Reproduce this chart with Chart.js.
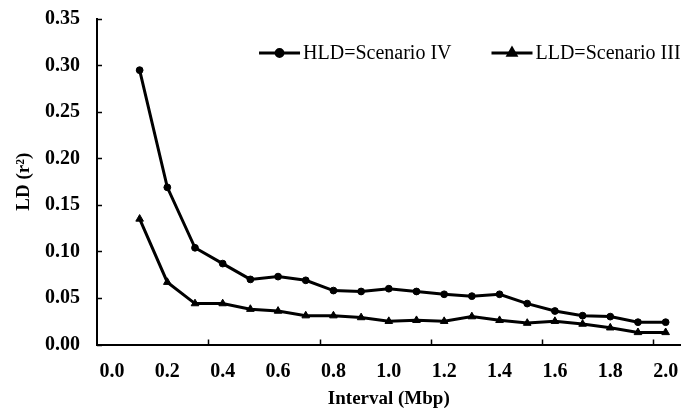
<!DOCTYPE html>
<html>
<head>
<meta charset="utf-8">
<script src="https://cdn.jsdelivr.net/npm/chart.js@4/dist/chart.umd.min.js"></script>
<style>
  html, body { margin: 0; padding: 0; background: #ffffff; }
  #wrap { position: relative; width: 686px; height: 409px; }
</style>
</head>
<body>
<div id="wrap"><canvas id="c"></canvas></div>
<script>
// ---- data ----
const intervals = [0.1, 0.2, 0.3, 0.4, 0.5, 0.6, 0.7, 0.8, 0.9, 1.0,
                   1.1, 1.2, 1.3, 1.4, 1.5, 1.6, 1.7, 1.8, 1.9, 2.0];
const hldValues = [0.295, 0.169, 0.104, 0.087, 0.070, 0.073, 0.069, 0.058, 0.057, 0.060,
                   0.057, 0.054, 0.052, 0.054, 0.044, 0.036, 0.031, 0.030, 0.024, 0.024];
const lldValues = [0.135, 0.067, 0.044, 0.044, 0.038, 0.036, 0.031, 0.031, 0.029, 0.025,
                   0.026, 0.025, 0.030, 0.026, 0.023, 0.025, 0.022, 0.018, 0.013, 0.013];
const seriesLabels = ['HLD=Scenario IV', 'LLD=Scenario III'];
const xTickLabels = [0.0, 0.2, 0.4, 0.6, 0.8, 1.0, 1.2, 1.4, 1.6, 1.8, 2.0];
const yTickLabels = [0.00, 0.05, 0.10, 0.15, 0.20, 0.25, 0.30, 0.35];
const xTickMarks = [0.348, 0.750, 1.152, 1.552, 1.955];
const xAxisTitle = 'Interval (Mbp)';
const yAxisTitle = 'LD (r\u00B2)';

const SERIF = "'Liberation Serif', 'Times New Roman', serif";

function toPoints(xs, ys) { return xs.map((x, i) => ({ x: x, y: ys[i] })); }

// inward tick marks, placed through the scales
const innerTicks = {
  id: 'innerTicks',
  beforeDatasetsDraw(chart) {
    const { ctx, chartArea, scales } = chart;
    ctx.save();
    ctx.strokeStyle = '#000';
    ctx.lineWidth = 1.5;
    ctx.beginPath();
    yTickLabels.forEach(v => {
      const py = Math.round(scales.y.getPixelForValue(v)) + 0.5;
      ctx.moveTo(chartArea.left, py);
      ctx.lineTo(chartArea.left + 5, py);
    });
    xTickMarks.forEach(v => {
      const px = Math.round(scales.x.getPixelForValue(v)) + 0.5;
      ctx.moveTo(px, chartArea.bottom);
      ctx.lineTo(px, chartArea.bottom - 5);
    });
    ctx.stroke();
    ctx.restore();
  }
};

// legend drawn inside the plot area: line + marker + text
const lineLegend = {
  id: 'lineLegend',
  afterDatasetsDraw(chart, args, opts) {
    const { ctx, chartArea } = chart;
    const font = opts.fontSize + 'px ' + SERIF;
    ctx.save();
    ctx.font = font;
    const items = chart.data.datasets.map(ds => ({
      ds: ds,
      w: opts.lineLength + opts.textGap + ctx.measureText(ds.label).width
    }));
    const total = items.reduce((s, it) => s + it.w, 0) + opts.itemGap * (items.length - 1);
    let x = chartArea.right - total;
    const y = chartArea.top + opts.topOffset;
    items.forEach(it => {
      const ds = it.ds;
      ctx.strokeStyle = ds.borderColor;
      ctx.fillStyle = ds.pointBackgroundColor;
      ctx.lineWidth = ds.borderWidth;
      ctx.beginPath();
      ctx.moveTo(x, y);
      ctx.lineTo(x + opts.lineLength, y);
      ctx.stroke();
      Chart.helpers.drawPoint(ctx, {
        pointStyle: ds.pointStyle, radius: ds.pointRadius, rotation: 0, borderWidth: 1
      }, x + opts.lineLength / 2, y);
      ctx.fillStyle = '#000';
      ctx.textBaseline = 'middle';
      ctx.textAlign = 'left';
      ctx.fillText(ds.label, x + opts.lineLength + opts.textGap, y + 1);
      x += it.w + opts.itemGap;
    });
    ctx.restore();
  }
};

new Chart(document.getElementById('c'), {
  type: 'line',
  data: {
    datasets: [
      {
        label: seriesLabels[0],
        data: toPoints(intervals, hldValues),
        borderColor: '#000', backgroundColor: '#000',
        pointBackgroundColor: '#000', pointBorderColor: '#000',
        borderWidth: 3, pointStyle: 'circle', pointRadius: 3.4, pointBorderWidth: 1,
        tension: 0, fill: false
      },
      {
        label: seriesLabels[1],
        data: toPoints(intervals, lldValues),
        borderColor: '#000', backgroundColor: '#000',
        pointBackgroundColor: '#000', pointBorderColor: '#000',
        borderWidth: 3, pointStyle: 'triangle', pointRadius: 4.4, pointBorderWidth: 1,
        tension: 0, fill: false
      }
    ]
  },
  options: {
    responsive: true,
    maintainAspectRatio: false,
    devicePixelRatio: 1,
    animation: false,
    layout: { padding: { left: 0, top: 19, right: 3, bottom: 0 } },
    plugins: {
      legend: { display: false },
      tooltip: { enabled: false },
      lineLegend: { fontSize: 20, lineLength: 41, textGap: 3, itemGap: 40, topOffset: 34 }
    },
    scales: {
      x: {
        type: 'linear',
        min: -0.054, max: 2.054,
        afterBuildTicks: (scale) => { scale.ticks = xTickLabels.map(v => ({ value: v })); },
        afterFit: (scale) => { scale.height = 64.5; scale.paddingLeft = 0; scale.paddingRight = 0; },
        grid: { display: false, drawTicks: false },
        border: { display: true, color: '#000', width: 2 },
        ticks: {
          padding: 15,
          color: '#000',
          font: { family: SERIF, size: 20, weight: 'bold' },
          callback: (v) => Number(v).toFixed(1)
        },
        title: {
          display: true, text: xAxisTitle, color: '#000',
          font: { family: SERIF, size: 19, weight: 'bold', lineHeight: 1 },
          padding: { top: 0, bottom: 0 }
        }
      },
      y: {
        min: 0, max: 0.35,
        afterBuildTicks: (scale) => { scale.ticks = yTickLabels.map(v => ({ value: v })); },
        afterFit: (scale) => { scale.width = 97; scale.paddingTop = 0; scale.paddingBottom = 0; },
        grid: { display: false, drawTicks: false },
        border: { display: true, color: '#000', width: 2 },
        ticks: {
          padding: 17,
          color: '#000',
          font: { family: SERIF, size: 20, weight: 'bold' },
          callback: (v) => Number(v).toFixed(2)
        },
        title: {
          display: true, text: yAxisTitle, color: '#000',
          font: { family: SERIF, size: 19, weight: 'bold' },
          padding: { top: 13, bottom: 0 }
        }
      }
    }
  },
  plugins: [innerTicks, lineLegend]
});
</script>
</body>
</html>
